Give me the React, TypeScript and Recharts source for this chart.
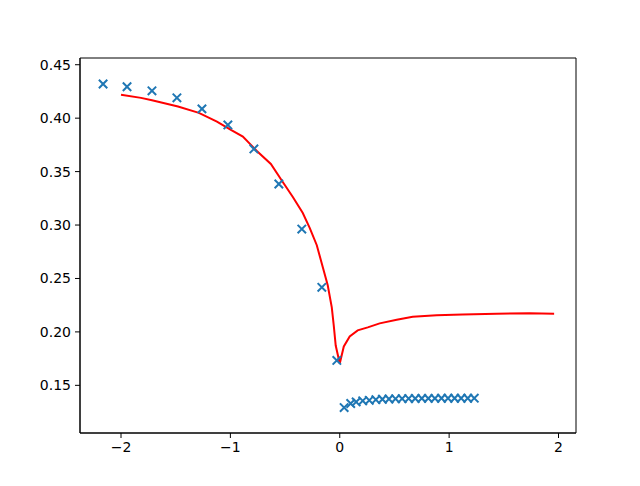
import { ComposedChart, Line, Scatter, XAxis, YAxis, ReferenceArea } from "recharts";

// upper branch of the measured points
const measuredLeftX = [-2.164, -1.945, -1.717, -1.489, -1.26, -1.023, -0.785, -0.557, -0.347, -0.164, -0.027];
const measuredLeftY = [0.432, 0.4294, 0.4256, 0.419, 0.4087, 0.3937, 0.3712, 0.3384, 0.2962, 0.2417, 0.1733];

// lower branch of the measured points
const measuredRightX = [0.04, 0.1, 0.15, 0.21, 0.27, 0.33, 0.39, 0.45, 0.51, 0.57, 0.63, 0.69, 0.75, 0.81, 0.87, 0.93, 0.99, 1.05, 1.11, 1.17, 1.23];
const measuredRightY = [0.1292, 0.133, 0.1345, 0.1355, 0.136, 0.1366, 0.137, 0.1372, 0.1374, 0.1375, 0.1376, 0.1377, 0.1378, 0.1378, 0.1378, 0.1379, 0.1379, 0.1379, 0.1379, 0.1379, 0.138];

// model curve
const modelX = [-2.0, -1.817, -1.717, -1.479, -1.288, -1.123, -0.995, -0.886, -0.758, -0.63, -0.521, -0.429, -0.338, -0.274, -0.21, -0.155, -0.11, -0.073, -0.055, -0.037, 0.0, 0.037, 0.091, 0.164, 0.256, 0.365, 0.521, 0.667, 0.886, 1.123, 1.434, 1.735, 1.96];
const modelY = [0.4219, 0.419, 0.4167, 0.4109, 0.405, 0.3968, 0.389, 0.3827, 0.3693, 0.3571, 0.3402, 0.3262, 0.3112, 0.2971, 0.2811, 0.2605, 0.2436, 0.223, 0.2061, 0.1873, 0.1705, 0.1864, 0.1958, 0.2014, 0.2042, 0.208, 0.2113, 0.2141, 0.2155, 0.2164, 0.2171, 0.2174, 0.2171];

const xTicks = [-2, -1, 0, 1, 2];
const yTicks = [0.15, 0.2, 0.25, 0.3, 0.35, 0.4, 0.45];

const xDomain = [-2.375, 2.16];
const yDomain = [0.1054, 0.4563];

const points = [
  ...measuredLeftX.map((x, i) => ({ x, y: measuredLeftY[i] })),
  ...measuredRightX.map((x, i) => ({ x, y: measuredRightY[i] })),
];
const curve = modelX.map((x, i) => ({ x, y: modelY[i] }));

const tickStyle = { fontFamily: "DejaVu Sans", fontSize: 14, fill: "#000" };

const Cross = (props: any) => {
  const { cx, cy } = props;
  const r = 4.2;
  return (
    <path
      d={`M${cx - r},${cy - r}L${cx + r},${cy + r}M${cx - r},${cy + r}L${cx + r},${cy - r}`}
      stroke="#1f77b4"
      strokeWidth={2}
      fill="none"
    />
  );
};

const App = () => {
  return (
    <div style={{ width: 640, height: 486, background: "#fff" }}>
      <style>{"body{margin:0}"}</style>
      <ComposedChart width={640} height={486} margin={{ top: 58, right: 64, bottom: 0, left: 0 }}>
        <XAxis
          type="number"
          dataKey="x"
          domain={xDomain}
          ticks={xTicks}
          allowDataOverflow
          height={53}
          tickSize={5}
          tickMargin={4}
          stroke="#000"
          tick={tickStyle}
          tickFormatter={(v: number) => String(v).replace("-", "\u2212")}
        />
        <YAxis
          type="number"
          dataKey="y"
          domain={yDomain}
          ticks={yTicks}
          allowDataOverflow
          width={80}
          tickSize={5}
          tickMargin={4}
          stroke="#000"
          tick={tickStyle}
          tickFormatter={(v: number) => v.toFixed(2)}
        />
        <ReferenceArea
          x1={xDomain[0]}
          x2={xDomain[1]}
          y1={yDomain[0]}
          y2={yDomain[1]}
          fill="none"
          stroke="#000"
          strokeWidth={1}
          ifOverflow="visible"
        />
        <Scatter data={points} dataKey="y" shape={<Cross />} isAnimationActive={false} />
        <Line data={curve} dataKey="y" type="linear" stroke="#ff0000" strokeWidth={2} dot={false} activeDot={false} isAnimationActive={false} />
      </ComposedChart>
    </div>
  );
};

export default App;
